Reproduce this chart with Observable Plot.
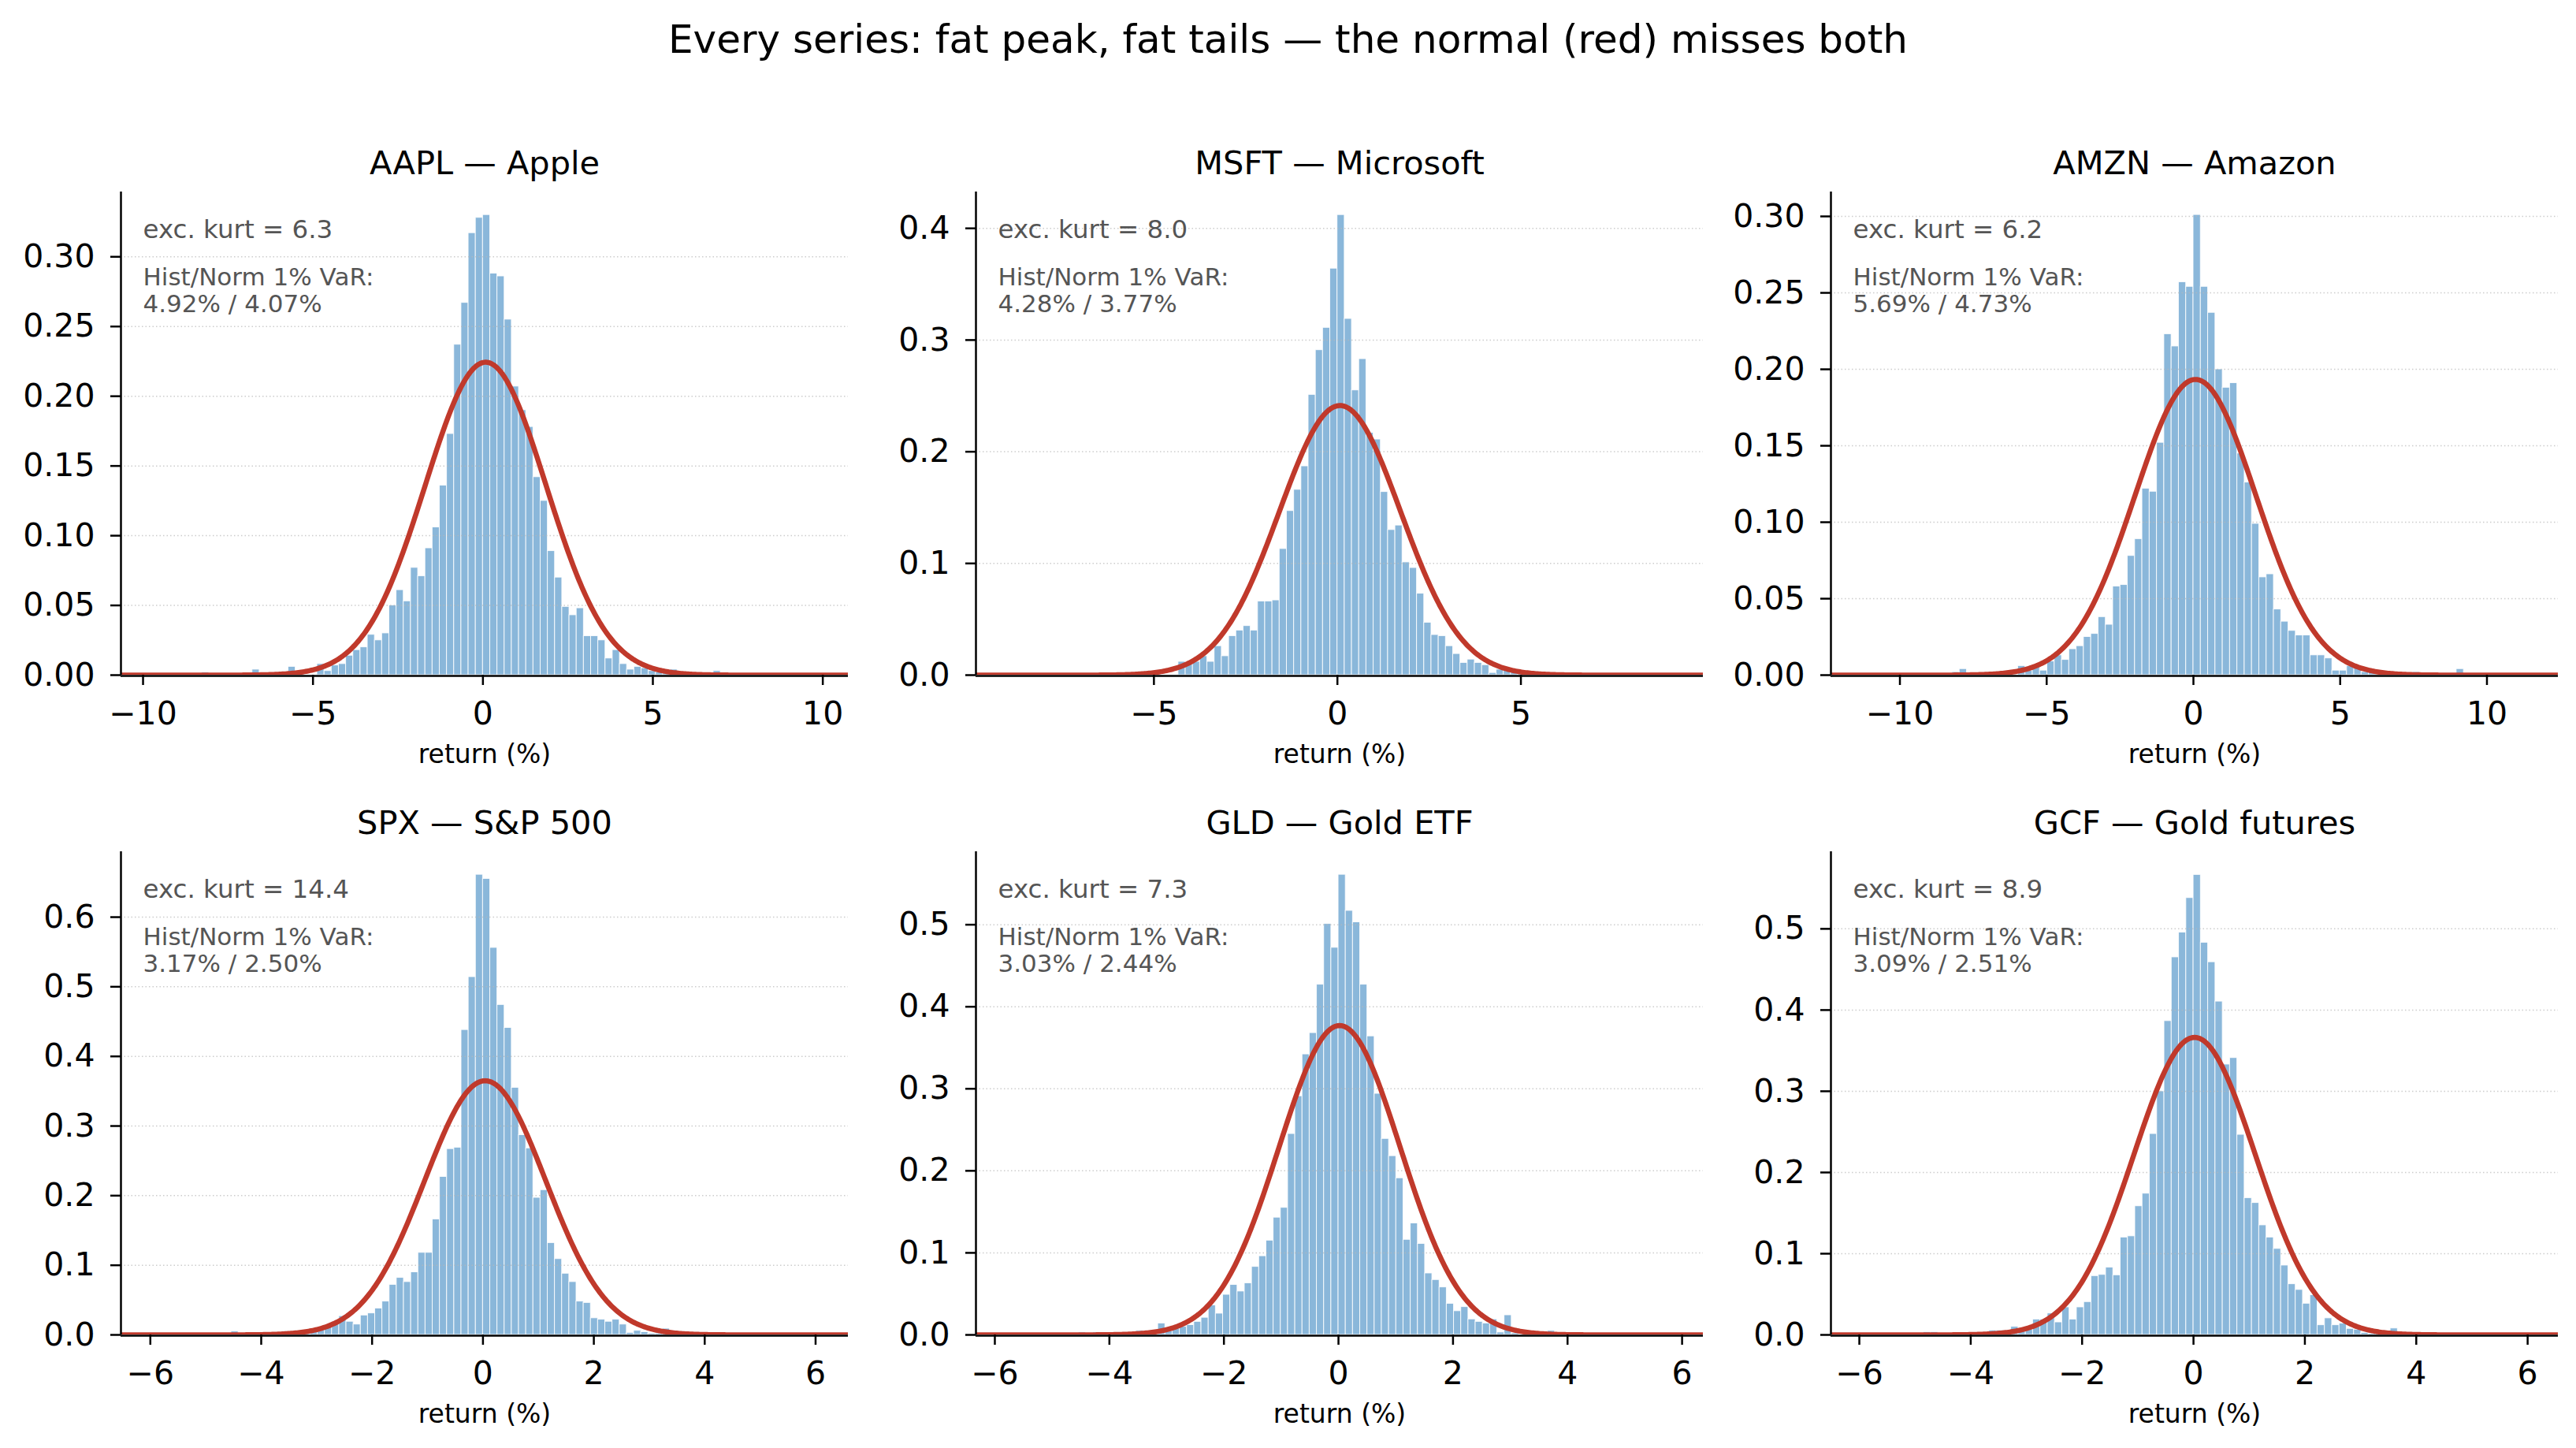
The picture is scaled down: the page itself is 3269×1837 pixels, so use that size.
<!DOCTYPE html>
<html><head><meta charset="utf-8">
<script src="https://cdn.jsdelivr.net/npm/d3@7"></script>
<script src="https://cdn.jsdelivr.net/npm/@observablehq/plot@0.6"></script>
<style>
html,body{margin:0;padding:0;background:#fff;}
#root{position:relative;width:3269px;height:1837px;background:#fff;font-family:"DejaVu Sans";overflow:hidden;}
#title{position:absolute;left:0;top:21px;width:3269px;text-align:center;font-size:50px;line-height:58px;color:#000;}
.panel{position:absolute;}
.panel svg{overflow:visible;max-width:none;}
</style></head><body>
<div id="root"><div id="title">Every series: fat peak, fat tails — the normal (red) misses both</div></div>
<script>
// ---- data ----
const titles = ["AAPL — Apple", "MSFT — Microsoft", "AMZN — Amazon", "SPX — S&P 500", "GLD — Gold ETF", "GCF — Gold futures"];
const excKurt = ["6.3", "8.0", "6.2", "14.4", "7.3", "8.9"];
const histVaR = ["4.92", "4.28", "5.69", "3.17", "3.03", "3.09"];
const normVaR = ["4.07", "3.77", "4.73", "2.50", "2.44", "2.51"];
const binWidth = [0.212, 0.197, 0.249, 0.1297, 0.126, 0.131];
const firstBin = [-39, -29, -33, -35, -36, -37];
const densAAPL = [0.002,0,0,0,0,0,0,0.004,0,0, 0,0,0.006,0,0,0,0.008,0.003,0.007,0.008,
  0.014,0.018,0.020,0.029,0.025,0.030,0.050,0.061,0.053,0.077, 0.071,0.091,0.106,0.136,0.173,0.237,0.267,0.317,0.328,0.330,
  0.288,0.286,0.255,0.207,0.190,0.178,0.142,0.125,0.089,0.070, 0.049,0.043,0.048,0.028,0.028,0.025,0.012,0.018,0.008,0.004,
  0.006,0.005,0.003,0.002,0.002,0.004,0,0,0,0, 0,0.003];
const densMSFT = [0.002,0,0,0,0,0,0,0.012,0.010,0.012, 0.017,0.012,0.026,0.017,0.035,0.040,0.044,0.040,0.066,0.066,
  0.067,0.113,0.147,0.166,0.187,0.251,0.291,0.311,0.364,0.412, 0.319,0.255,0.283,0.217,0.211,0.164,0.130,0.134,0.101,0.096,
  0.073,0.047,0.036,0.035,0.026,0.019,0.011,0.014,0.011,0.009, 0.002,0.005,0.004,0.003,0.003,0.003,0.003];
const densAMZN = [0.002,0.004,0,0,0,0,0,0,0,0.006, 0.003,0.006,0.003,0.009,0.013,0.010,0.017,0.019,0.025,0.027,
  0.038,0.033,0.058,0.059,0.078,0.089,0.122,0.120,0.152,0.223, 0.215,0.257,0.254,0.301,0.254,0.237,0.200,0.188,0.191,0.145,
  0.126,0.099,0.064,0.066,0.043,0.035,0.029,0.026,0.026,0.013, 0.013,0.011,0.003,0.003,0.006,0.005,0.002,0.002,0,0,
  0,0,0,0.002,0,0,0,0,0,0.004];
const densSPX = [0.005,0,0,0,0,0,0,0.005,0.004,0.004, 0.003,0.004,0.008,0.012,0.019,0.027,0.019,0.015,0.028,0.031,
  0.038,0.048,0.072,0.082,0.076,0.090,0.118,0.118,0.166,0.227, 0.267,0.269,0.438,0.514,0.661,0.655,0.556,0.474,0.441,0.355,
  0.287,0.268,0.197,0.208,0.132,0.109,0.088,0.076,0.048,0.046, 0.024,0.022,0.019,0.022,0.015,0.003,0.006,0.004,0.002,0.002,0.009];
const densGLD = [0.003,0,0.003,0,0,0,0,0,0.005,0, 0,0.014,0.005,0.008,0.010,0.012,0.016,0.021,0.036,0.026,
  0.049,0.061,0.053,0.063,0.083,0.096,0.115,0.143,0.155,0.245, 0.291,0.342,0.368,0.427,0.501,0.472,0.561,0.517,0.503,0.427,
  0.364,0.294,0.239,0.218,0.191,0.116,0.136,0.111,0.075,0.067, 0.058,0.038,0.029,0.034,0.019,0.016,0.014,0.019,0.003,0.024,
  0.002,0,0,0,0,0.005];
const densGCF = [0.0035,0.0035,0,0,0,0,0,0,0,0.0055, 0.0055,0,0.010,0.005,0.0065,0.019,0.019,0.0265,0.0155,0.034,
  0.019,0.034,0.0405,0.0725,0.074,0.083,0.0735,0.120,0.1215,0.1585, 0.174,0.2475,0.300,0.3865,0.465,0.4955,0.538,0.5665,0.483,0.459,
  0.4105,0.333,0.341,0.2465,0.1685,0.1625,0.135,0.120,0.106,0.0855, 0.0625,0.0555,0.0385,0.049,0.012,0.0205,0.012,0.014,0.0075,0.0065,
  0.0025,0.0015,0.0015,0.0025,0.008];
const densities = [densAAPL, densMSFT, densAMZN, densSPX, densGLD, densGCF];
const normMean = [0.08, 0.07, 0.07, 0.04, 0.02, 0.02];
const normSd = [1.778, 1.653, 2.063, 1.093, 1.058, 1.089];
const xMin = [-10.65, -9.85, -12.35, -6.53, -6.33, -6.51];
const xMax = [10.75, 9.97, 12.43, 6.59, 6.37, 6.55];
const yMax = [0.3465, 0.4326, 0.316, 0.694, 0.589, 0.595];
const xTicks = [[-10,-5,0,5,10], [-5,0,5], [-10,-5,0,5,10], [-6,-4,-2,0,2,4,6], [-6,-4,-2,0,2,4,6], [-6,-4,-2,0,2,4,6]];
const yTicks = [[0,0.05,0.10,0.15,0.20,0.25,0.30], [0,0.1,0.2,0.3,0.4], [0,0.05,0.10,0.15,0.20,0.25,0.30],
  [0,0.1,0.2,0.3,0.4,0.5,0.6], [0,0.1,0.2,0.3,0.4,0.5], [0,0.1,0.2,0.3,0.4,0.5]];
const yFormat = [".2f", ".1f", ".2f", ".1f", ".1f", ".1f"];

// ---- layout ----
const colLeft = [153, 1238, 2323], rowTop = [243, 1080];
const AW = 923, AH = 613, ML = 150, MR = 20, MT = 90, MB = 140;
const root = document.getElementById("root");
const fmtX = d3.format("d");

for (let i = 0; i < 6; i++) {
  const w = binWidth[i], k0 = firstBin[i];
  const bins = densities[i].map((h, j) => ({x1: (k0 + j) * w, x2: (k0 + j + 1) * w, y: h})).filter(d => d.y > 0);
  const n = 500;
  const curve = d3.range(n + 1).map(j => {
    const x = xMin[i] + (xMax[i] - xMin[i]) * j / n;
    const z = (x - normMean[i]) / normSd[i];
    return {x, y: Math.exp(-0.5 * z * z) / (normSd[i] * Math.sqrt(2 * Math.PI))};
  });
  const chart = Plot.plot({
    width: AW + ML + MR, height: AH + MT + MB,
    marginLeft: ML, marginRight: MR, marginTop: MT, marginBottom: MB,
    style: {fontFamily: "DejaVu Sans", fontSize: "41px", color: "#000", background: "transparent", overflow: "visible"},
    x: {domain: [xMin[i], xMax[i]]},
    y: {domain: [0, yMax[i]]},
    marks: [
      Plot.rectY(bins, {x1: "x1", x2: "x2", y1: 0, y2: "y", fill: "#8ab7da", stroke: "#ffffff", strokeWidth: 1, strokeOpacity: 0.85, inset: 0}),
      Plot.gridY(yTicks[i].filter(t => t > 0), {stroke: "#b8b8b8", strokeOpacity: 0.7, strokeWidth: 1.5, strokeDasharray: "1.5,3"}),
      Plot.line(curve, {x: "x", y: "y", stroke: "#c0392b", strokeWidth: 6.5, clip: true}),
      Plot.axisX(xTicks[i], {tickSize: 13, tickPadding: 20, tickFormat: fmtX, label: null, strokeWidth: 2.5, fontSize: 41}),
      Plot.axisY(yTicks[i], {tickSize: 13, tickPadding: 20, tickFormat: d3.format(yFormat[i]), label: null, strokeWidth: 2.5, fontSize: 41}),
      Plot.ruleY([0], {stroke: "#000", strokeWidth: 2.5, dy: 1}),
      Plot.ruleX([xMin[i]], {y1: 0, y2: yMax[i], stroke: "#000", strokeWidth: 2.5}),
      Plot.text([titles[i]], {text: d => d, frameAnchor: "top", dy: -52, lineAnchor: "top", fontSize: 41.5, fill: "#000"}),
      Plot.text(["exc. kurt = " + excKurt[i]], {text: d => d, frameAnchor: "top-left", dx: 28, dy: 35.5, lineAnchor: "top", textAnchor: "start", fontSize: 32.5, fill: "#555555"}),
      Plot.text(["Hist/Norm 1% VaR:\n" + histVaR[i] + "% / " + normVaR[i] + "%"], {text: d => d, frameAnchor: "top-left", dx: 28, dy: 95, lineAnchor: "top", textAnchor: "start", fontSize: 31, lineHeight: 1.08, fill: "#555555"}),
      Plot.text(["return (%)"], {text: d => d, frameAnchor: "bottom", dy: 101, lineAnchor: "middle", fontSize: 33, fill: "#000"})
    ]
  });
  const holder = document.createElement("div");
  holder.className = "panel";
  holder.style.left = (colLeft[i % 3] - ML) + "px";
  holder.style.top = (rowTop[Math.floor(i / 3)] - MT) + "px";
  holder.appendChild(chart);
  root.appendChild(holder);
}
</script>
</body></html>
